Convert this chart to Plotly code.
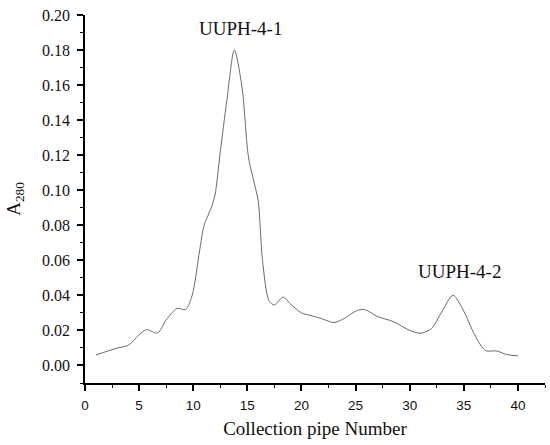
import plotly.graph_objects as go

pipe_number = [1, 2, 3, 4, 5, 5.7, 6.7, 7.5, 8.5, 9.3, 9.9, 10.6, 11.0, 11.6, 12.0, 12.5,
               13.1, 13.8, 14.5, 15.1, 15.6, 16.0, 16.4, 17.0, 17.5, 18.3, 19.0, 20, 21,
               22, 23, 24, 25, 25.8, 27, 28.5, 30, 31, 32, 33, 34, 35, 36, 37, 38, 39, 40]
a280 = [0.006, 0.008, 0.010, 0.0115, 0.0175, 0.0205, 0.0185, 0.026, 0.0325, 0.032, 0.040,
        0.066, 0.080, 0.089, 0.097, 0.122, 0.151, 0.180, 0.159, 0.119, 0.105, 0.094, 0.060,
        0.037, 0.0345, 0.039, 0.035, 0.030, 0.0283, 0.0264, 0.0245, 0.027, 0.031, 0.032,
        0.028, 0.025, 0.020, 0.0184, 0.021, 0.031, 0.040, 0.031, 0.0175, 0.0085, 0.0083,
        0.0062, 0.0055]

peak_labels = ["UUPH-4-1", "UUPH-4-2"]
peak_x = [14.33, 34.6]
peak_y = [0.1922, 0.0535]

fig = go.Figure()
fig.add_trace(go.Scatter(x=pipe_number, y=a280, mode="lines",
                         line=dict(color="#6a6a6a", width=1, shape="spline", smoothing=0.8),
                         showlegend=False))

for t, px, py in zip(peak_labels, peak_x, peak_y):
    fig.add_annotation(x=px, y=py, text=t, showarrow=False, xref="x", yref="y",
                       font=dict(family="Liberation Serif, Times New Roman, serif", size=19, color="#111"))

fig.update_layout(
    width=550, height=445,
    margin=dict(l=85, r=5, t=15, b=62),
    plot_bgcolor="white", paper_bgcolor="white",
    xaxis=dict(range=[0, 42.5], tickmode="linear", tick0=0, dtick=5,
               showline=True, linecolor="black", linewidth=1.5,
               ticks="outside", ticklen=6, tickwidth=1.5, tickcolor="black",
               minor=dict(ticks="outside", ticklen=3, dtick=2.5, tickcolor="black", tickwidth=1.2),
               showgrid=False, zeroline=False,
               tickfont=dict(family="Liberation Sans, Arial, sans-serif", size=13.5, color="#111"),
               ticklabelstandoff=3,
               title=dict(text="Collection pipe Number", standoff=10,
                          font=dict(family="Liberation Serif, Times New Roman, serif", size=19, color="#111")),
               automargin=False),
    yaxis=dict(range=[-0.01, 0.20], tickmode="linear", tick0=0, dtick=0.02, tickformat=".2f",
               showline=True, linecolor="black", linewidth=1.5,
               ticks="outside", ticklen=6, tickwidth=1.5, tickcolor="black",
               minor=dict(ticks="outside", ticklen=3.5, dtick=0.01, tickcolor="black", tickwidth=1.2),
               showgrid=False, zeroline=False,
               tickfont=dict(family="Liberation Serif, Times New Roman, serif", size=16, color="#111"),
               ticklabelstandoff=4,
               title=dict(text="A<sub>280</sub>", standoff=16,
                          font=dict(family="Liberation Serif, Times New Roman, serif", size=19, color="#111")),
               automargin=False),
)

fig.write_html("out.html", config={"displayModeBar": False},
               post_script="document.body.style.margin='0';document.body.style.overflow='hidden';")
